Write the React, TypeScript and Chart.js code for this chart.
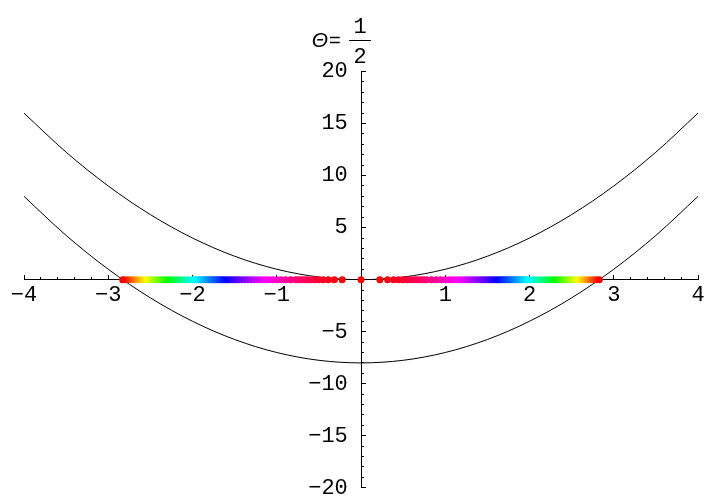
import { useEffect, useRef } from 'react';
import { Chart, registerables } from 'chart.js';

Chart.register(...registerables);

// Sample abscissae shared by both parabolas
const curveX = [-4, -3.5, -3, -2.5, -2, -1.5, -1, -0.5, 0, 0.5, 1, 1.5, 2, 2.5, 3, 3.5, 4];
// Upper parabola
const upperCurve = [16, 12.25, 9, 6.25, 4, 2.25, 1, 0.25, 0, 0.25, 1, 2.25, 4, 6.25, 9, 12.25, 16];
// Lower parabola
const lowerCurve = [8, 4.25, 1, -1.75, -4, -5.75, -7, -7.75, -8, -7.75, -7, -5.75, -4, -1.75, 1, 4.25, 8];

// Positions of the points on the real axis (non-negative half; the set is symmetric)
const rootPositions = [
  0, 0.2236, 0.3162, 0.3873, 0.4472, 0.5, 0.5477, 0.5916, 0.6325, 0.6708, 0.7071, 0.7416, 0.7746,
  0.8367, 0.8944, 0.9487, 1.0, 1.0488, 1.0954, 1.1402, 1.1832, 1.2247, 1.2649, 1.3038, 1.3416,
  1.3784, 1.4142, 1.4491, 1.4832, 1.5166, 1.5492, 1.5811, 1.6125, 1.6432, 1.6733, 1.7029, 1.7321,
  1.7607, 1.7889, 1.8166, 1.8439, 1.8708, 1.8974, 1.9235, 1.9494, 1.9748, 2.0,
  2.0494, 2.0976, 2.1448, 2.1909, 2.2361, 2.2804, 2.3238, 2.3664, 2.4083, 2.4495, 2.49, 2.5298,
  2.569, 2.6077, 2.6458, 2.6833, 2.7203, 2.7568, 2.7928, 2.8284,
];

// Axis tick labels
const xTickValues = [-4, -3, -2, -1, 1, 2, 3, 4];
const xTickLabels = ['\u22124', '\u22123', '\u22122', '\u22121', '1', '2', '3', '4'];
const yTickValues = [-20, -15, -10, -5, 5, 10, 15, 20];
const yTickLabels = ['\u221220', '\u221215', '\u221210', '\u22125', '5', '10', '15', '20'];

// Heading: Θ = 1/2
const titleSymbol = '\u0398';
const titleNumerator = '1';
const titleDenominator = '2';

const MONO = '"Liberation Mono", "Courier New", monospace';
const SANS = '"Liberation Sans", Arial, sans-serif';

const maxRoot = rootPositions[rootPositions.length - 1];
const hueFor = (x: number) => {
  const h = 1 - (x * x) / (maxRoot * maxRoot);
  return `hsl(${(((h % 1) + 1) % 1) * 360}, 100%, 50%)`;
};

const axisTicksPlugin = {
  id: 'axisTicks',
  beforeDatasetsDraw(chart: any) {
    const { ctx } = chart;
    const xs = chart.scales.x;
    const ys = chart.scales.y;
    const y0 = Math.floor(ys.getPixelForValue(0)) + 0.5;
    const x0 = Math.floor(xs.getPixelForValue(0)) + 0.5;
    ctx.save();
    ctx.strokeStyle = '#000';
    ctx.lineWidth = 1;
    ctx.beginPath();
    for (const t of xs.ticks) {
      const v = t.value;
      if (Math.abs(v) < 1e-9) continue;
      const major = Math.abs(v - Math.round(v)) < 1e-6;
      const len = major ? 4.5 : 2.5;
      const px = Math.floor(xs.getPixelForValue(v)) + 0.5;
      ctx.moveTo(px, y0);
      ctx.lineTo(px, y0 - len);
    }
    for (const t of ys.ticks) {
      const v = t.value;
      if (Math.abs(v) < 1e-9) continue;
      const major = Math.abs(v / 5 - Math.round(v / 5)) < 1e-6;
      const len = major ? 4.5 : 2.5;
      const py = Math.floor(ys.getPixelForValue(v)) + 0.5;
      ctx.moveTo(x0, py);
      ctx.lineTo(x0 + len, py);
    }
    ctx.stroke();
    ctx.restore();
  },
  afterDraw(chart: any) {
    const { ctx } = chart;
    const x0 = chart.scales.x.getPixelForValue(0);
    const top = chart.scales.y.getPixelForValue(20);
    ctx.save();
    ctx.fillStyle = '#000';
    ctx.textBaseline = 'alphabetic';
    ctx.font = `italic 21px ${SANS}`;
    ctx.textAlign = 'right';
    ctx.fillText(titleSymbol, x0 - 33, top - 24.5);
    ctx.font = `20px ${SANS}`;
    ctx.textAlign = 'left';
    ctx.fillText('=', x0 - 32, top - 24.5);
    ctx.font = `22px ${MONO}`;
    ctx.textAlign = 'center';
    ctx.fillText(titleNumerator, x0 - 1, top - 38.5);
    ctx.fillText(titleDenominator, x0 - 1, top - 8.5);
    ctx.strokeStyle = '#000';
    ctx.lineWidth = 1;
    ctx.beginPath();
    const by = Math.floor(top - 31.5) + 0.5;
    ctx.moveTo(x0 - 12, by);
    ctx.lineTo(x0 + 10, by);
    ctx.stroke();
    ctx.restore();
  },
};

export default function App() {
  const canvasRef = useRef<HTMLCanvasElement | null>(null);

  useEffect(() => {
    const canvas = canvasRef.current;
    if (!canvas) return;

    const points: { x: number; y: number }[] = [];
    for (const r of rootPositions) if (r > 0) points.push({ x: -r, y: 0 });
    for (const r of rootPositions) points.push({ x: r, y: 0 });

    const chart = new Chart(canvas, {
      type: 'scatter',
      data: {
        datasets: [
          {
            label: 'roots',
            data: points,
            pointRadius: 3.5,
            pointBorderWidth: 0,
            pointBackgroundColor: (c: any) => hueFor(c.raw ? c.raw.x : 0),
            showLine: false,
            clip: false as any,
          },
          {
            label: 'upper',
            data: curveX.map((x, i) => ({ x, y: upperCurve[i] })),
            showLine: true,
            pointRadius: 0,
            borderColor: '#000',
            borderWidth: 1,
            cubicInterpolationMode: 'monotone',
            clip: false as any,
          },
          {
            label: 'lower',
            data: curveX.map((x, i) => ({ x, y: lowerCurve[i] })),
            showLine: true,
            pointRadius: 0,
            borderColor: '#000',
            borderWidth: 1,
            cubicInterpolationMode: 'monotone',
            clip: false as any,
          },
        ],
      },
      options: {
        animation: false,
        responsive: false,
        events: [],
        layout: { padding: { left: 24, right: 9, top: 71.5, bottom: 10.5 } },
        plugins: {
          legend: { display: false },
          tooltip: { enabled: false },
          title: { display: false },
        },
        scales: {
          x: {
            type: 'linear',
            min: -4,
            max: 4,
            position: { y: 0 } as any,
            grid: { display: false, drawTicks: false },
            border: { display: true, color: '#000', width: 1 },
            ticks: {
              stepSize: 0.2,
              autoSkip: false,
              maxRotation: 0,
              padding: 2,
              color: '#000',
              font: { family: MONO, size: 22 },
              callback: (v: any) => {
                const i = xTickValues.findIndex((t) => Math.abs(t - Number(v)) < 1e-6);
                return i >= 0 ? xTickLabels[i] : '';
              },
            },
          },
          y: {
            type: 'linear',
            min: -20,
            max: 20,
            position: { x: 0 } as any,
            grid: { display: false, drawTicks: false },
            border: { display: true, color: '#000', width: 1 },
            ticks: {
              stepSize: 1,
              autoSkip: false,
              padding: 0,
              color: '#000',
              font: { family: MONO, size: 22 },
              callback: (v: any) => {
                const i = yTickValues.findIndex((t) => Math.abs(t - Number(v)) < 1e-6);
                return i >= 0 ? yTickLabels[i] + ' ' : '';
              },
            },
          },
        },
      },
      plugins: [axisTicksPlugin],
    });

    return () => chart.destroy();
  }, []);

  return (
    <div style={{ position: 'absolute', left: 0, top: 0, width: 707, height: 501, background: '#fff' }}>
      <canvas ref={canvasRef} width={707} height={501} style={{ display: 'block' }} />
    </div>
  );
}
